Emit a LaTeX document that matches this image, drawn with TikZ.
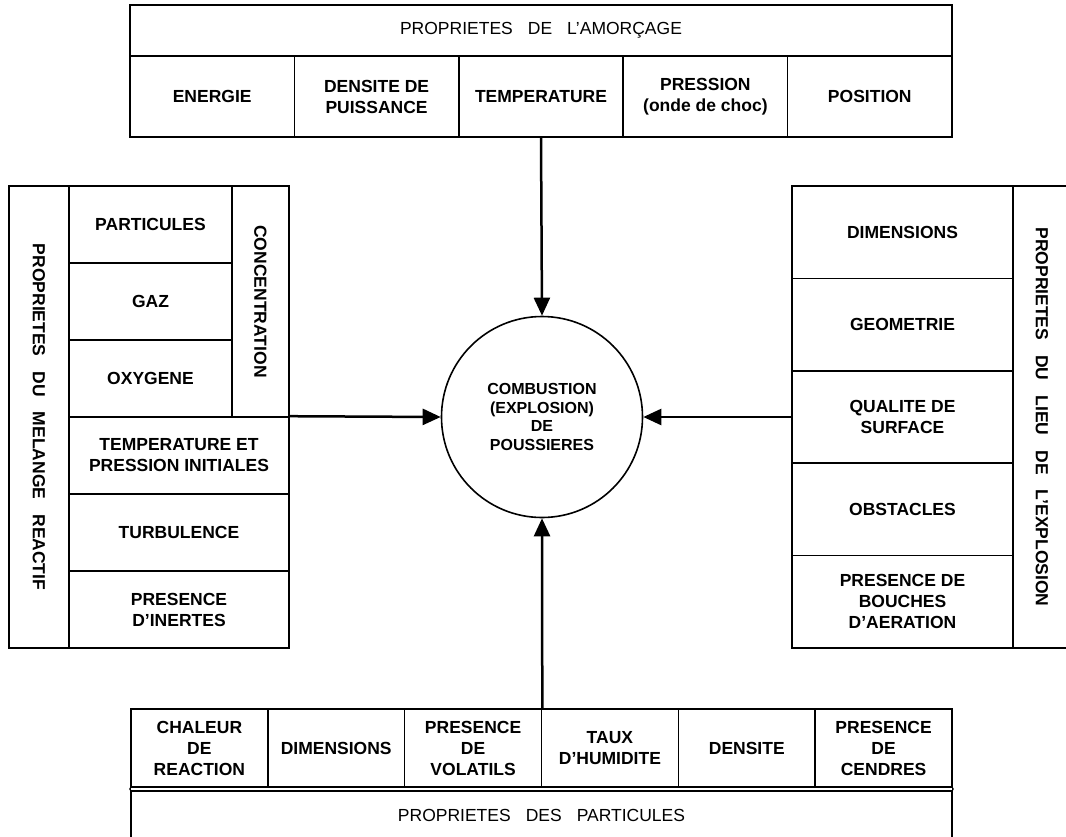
\documentclass[tikz,border=0pt]{standalone}
\usepackage{fontspec}
\setmainfont{Liberation Sans}
\usetikzlibrary{arrows.meta}
\tikzset{
  cell/.style={draw, line width=1.6pt, inner sep=0pt, align=center,
    font=\fontsize{17.5}{21}\selectfont\bfseries},
  head/.style={cell, font=\fontsize{17.5}{21}\selectfont},
  arr/.style={line width=2.5pt, -{Triangle[length=18pt,width=16pt]}},
}
\newcommand{\wg}{\hspace{15pt}}
\begin{document}
\begin{tikzpicture}[x=1pt,y=-1pt]
\useasboundingbox (0,0) rectangle (1066,836);
\clip (0,0) rectangle (1066,836);
% top box
\node[head, minimum width=822pt, minimum height=51pt] (amorcage) at (541,30.5) {PROPRIETES\wg DE\wg L’AMORÇAGE};
\node[cell, minimum width=164.4pt, minimum height=81pt] (energie) at (212.2,96.5) {ENERGIE};
\node[cell, minimum width=164.4pt, minimum height=81pt] (densite) at (376.6,96.5) {DENSITE DE\\PUISSANCE};
\node[cell, minimum width=164.4pt, minimum height=81pt] (temptop) at (541,96.5) {TEMPERATURE};
\node[cell, minimum width=164.4pt, minimum height=81pt] (pression) at (705.4,96.5) {PRESSION\\(onde de choc)};
\node[cell, minimum width=164.4pt, minimum height=81pt] (position) at (869.8,96.5) {POSITION};
% left box
\node[cell, rotate=-90, minimum width=462pt, minimum height=60pt] (melange) at (39,417) {PROPRIETES\wg DU\wg MELANGE\wg REACTIF};
\node[cell, rotate=-90, minimum width=231pt, minimum height=57pt] (conc) at (260.5,301.5) {CONCENTRATION};
\node[cell, minimum width=163pt, minimum height=77pt] (particules) at (150.5,224.5) {PARTICULES};
\node[cell, minimum width=163pt, minimum height=77pt] (gaz) at (150.5,301.5) {GAZ};
\node[cell, minimum width=163pt, minimum height=77pt] (oxygene) at (150.5,378.5) {OXYGENE};
\node[cell, minimum width=220pt, minimum height=77pt] (tempinit) at (179,455.5) {TEMPERATURE ET\\PRESSION INITIALES};
\node[cell, minimum width=220pt, minimum height=77pt] (turbulence) at (179,532.5) {TURBULENCE};
\node[cell, minimum width=220pt, minimum height=77pt] (inertes) at (179,609.5) {PRESENCE\\D’INERTES};
% right box
\node[cell, minimum width=221pt, minimum height=92.4pt] (dimlieu) at (902.5,232.2) {DIMENSIONS};
\node[cell, minimum width=221pt, minimum height=92.4pt] (geometrie) at (902.5,324.6) {GEOMETRIE};
\node[cell, minimum width=221pt, minimum height=92.4pt] (qualite) at (902.5,417) {QUALITE DE\\SURFACE};
\node[cell, minimum width=221pt, minimum height=92.4pt] (obstacles) at (902.5,509.4) {OBSTACLES};
\node[cell, minimum width=221pt, minimum height=92.4pt] (bouches) at (902.5,601.8) {PRESENCE DE\\BOUCHES\\D’AERATION};
\node[cell, rotate=-90, minimum width=462pt, minimum height=58pt] (lieu) at (1042,417) {PROPRIETES\wg DU\wg LIEU\wg DE\wg L’EXPLOSION};
% bottom box
\node[cell, minimum width=136.83pt, minimum height=78pt] (chaleur) at (199.4,748) {CHALEUR\\DE\\REACTION};
\node[cell, minimum width=136.83pt, minimum height=78pt] (dimpart) at (336.2,748) {DIMENSIONS};
\node[cell, minimum width=136.83pt, minimum height=78pt] (volatils) at (473.1,748) {PRESENCE\\DE\\VOLATILS};
\node[cell, minimum width=136.83pt, minimum height=78pt] (taux) at (609.9,748) {TAUX\\D’HUMIDITE};
\node[cell, minimum width=136.83pt, minimum height=78pt] (densitep) at (746.8,748) {DENSITE};
\node[cell, minimum width=136.83pt, minimum height=78pt] (cendres) at (883.6,748) {PRESENCE\\DE\\CENDRES};
\node[head, minimum width=821pt, minimum height=48pt] (propart) at (541.5,815) {PROPRIETES\wg DES\wg PARTICULES};
\draw[line width=1.6pt] (chaleur.south west) -- (propart.north west);
\draw[line width=1.6pt] (cendres.south east) -- (propart.north east);
% centre
\node[draw, circle, line width=1.6pt, minimum size=201pt, inner sep=0pt, align=center,
  font=\fontsize{16}{18.5}\selectfont\bfseries] (comb) at (542,417) {COMBUSTION\\(EXPLOSION)\\DE\\POUSSIERES};
% arrows
\draw[arr] (temptop.south) -- (comb.north);
\draw[arr] (tempinit.north east) -- (comb.west);
\draw[arr] (qualite.west) -- (comb.east);
\draw[arr] (volatils.north east) -- (comb.south);
\end{tikzpicture}
\end{document}
